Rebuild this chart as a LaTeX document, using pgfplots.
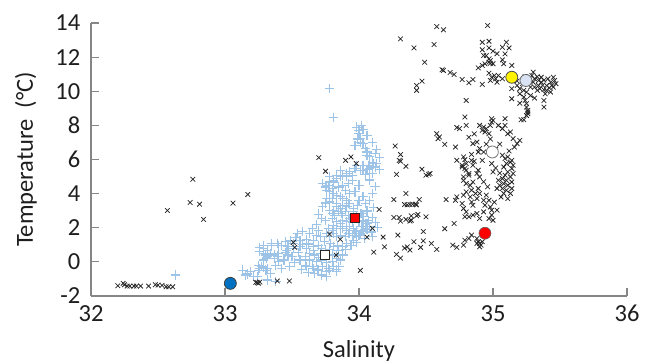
\documentclass[border=0pt]{standalone}
\usepackage{pgfplots}
\pgfplotsset{compat=1.18}
\usepackage{pgfplotstable}
\usepackage{fontspec}
\setmainfont{Carlito}

\definecolor{axisgray}{RGB}{134,134,134}
\definecolor{paleblue}{RGB}{157,195,230}
\definecolor{deepblue}{RGB}{0,112,192}
\definecolor{paleice}{RGB}{218,227,243}
\definecolor{textdark}{RGB}{30,30,30}

% Salinity / temperature pairs, all stations
\pgfplotstableread{
S T
32.76 4.84
32.57 3.01
32.74 3.48
32.81 3.38
32.84 2.49
33.06 3.44
33.17 3.95
32.20 -1.40
32.24 -1.26
32.25 -1.34
32.27 -1.42
32.29 -1.42
32.32 -1.42
32.34 -1.42
32.37 -1.42
32.43 -1.42
32.48 -1.34
32.50 -1.36
32.53 -1.38
32.56 -1.46
32.58 -1.46
32.61 -1.46
33.23 -1.20
33.25 -1.25
33.26 -1.18
33.24 -1.22
33.39 -1.12
33.48 -1.12
34.01 -0.50
34.27 6.79
34.31 6.29
34.30 5.95
34.31 5.90
34.35 5.60
34.28 5.13
34.47 5.43
34.50 5.08
34.52 5.13
34.58 7.51
34.60 7.32
34.59 7.22
34.64 6.89
33.90 5.95
33.94 6.15
33.98 5.76
34.35 4.01
34.26 3.65
34.45 3.65
34.65 3.65
34.34 3.36
34.36 3.34
34.38 3.36
34.40 3.38
34.42 3.38
34.43 3.34
34.15 3.07
34.26 2.60
34.30 2.60
34.31 2.39
34.39 2.70
34.44 2.78
34.39 2.44
34.38 2.39
34.50 2.64
34.64 1.94
34.10 1.96
34.06 1.45
34.18 1.45
34.29 1.57
34.48 1.78
34.41 1.18
34.48 1.23
34.46 0.85
34.36 0.88
34.34 0.81
34.38 0.69
34.54 1.08
34.58 0.73
34.19 0.88
34.11 0.57
34.28 0.44
34.31 0.22
33.83 0.40
33.86 1.32
33.78 1.63
33.51 1.14
33.52 0.85
33.70 6.11
33.75 5.31
34.58 13.79
34.63 13.60
34.96 13.85
34.56 12.74
34.49 11.70
34.47 10.59
34.63 11.22
34.68 11.10
34.71 10.98
34.77 10.69
34.82 10.50
34.85 10.69
34.92 10.40
34.80 9.46
34.79 8.49
34.92 12.87
34.97 12.93
34.92 12.43
34.97 12.54
34.95 12.09
34.97 11.90
34.98 11.80
34.98 11.64
34.94 11.61
34.92 11.51
34.97 11.70
35.00 11.61
34.89 11.37
35.07 12.58
35.10 12.87
35.12 12.54
35.09 12.19
35.07 11.84
35.08 11.61
35.14 11.51
34.97 11.06
34.99 10.82
35.02 10.73
35.04 10.92
35.07 10.73
34.98 10.63
35.03 10.53
35.01 10.92
35.14 10.15
35.18 10.34
35.20 10.15
35.23 10.05
35.25 9.95
35.28 10.24
35.30 10.53
35.31 10.24
35.33 10.05
35.34 10.34
35.35 10.15
35.36 10.53
35.38 10.09
35.40 10.34
35.41 10.73
35.43 10.53
35.44 10.34
35.45 10.82
35.46 10.63
35.47 10.44
35.45 10.24
35.30 11.12
35.29 10.92
35.31 10.73
35.34 10.63
35.36 10.82
35.40 10.05
35.43 9.95
35.39 9.85
35.20 9.85
35.23 9.66
35.24 9.46
35.25 9.27
35.25 9.07
35.26 8.88
35.26 8.68
35.14 9.56
35.38 9.46
35.38 9.07
35.20 9.30
34.99 8.39
35.21 8.33
34.80 8.00
34.73 7.87
34.75 7.81
34.72 6.73
34.90 8.00
34.93 7.90
34.95 7.81
34.94 7.61
34.97 7.51
34.98 8.00
34.99 8.19
34.92 7.71
35.04 8.00
35.07 7.81
35.09 8.00
35.13 7.61
35.11 7.51
35.15 7.22
35.18 6.93
35.20 7.12
35.16 6.73
35.26 8.78
35.25 8.58
35.23 8.33
34.85 6.93
34.88 7.02
34.90 6.64
34.93 6.44
34.89 6.44
34.73 5.95
34.79 5.99
34.80 5.76
34.77 5.56
34.80 5.37
34.78 4.98
34.82 5.18
34.84 5.95
34.85 5.66
34.92 5.95
34.99 5.76
35.00 5.27
35.07 6.25
35.09 6.05
35.11 6.15
35.13 5.85
35.14 5.95
35.15 5.66
35.10 5.76
35.08 5.56
35.14 5.47
35.11 5.27
35.15 5.18
35.09 5.08
35.13 4.98
35.07 4.88
35.10 4.78
35.14 4.68
35.08 4.59
35.11 4.49
35.07 4.30
35.10 4.20
35.14 4.30
35.13 4.01
35.08 4.01
35.05 4.49
35.04 4.78
35.03 4.30
35.11 3.71
34.78 6.15
34.77 5.66
34.79 5.47
34.82 5.08
34.78 4.78
34.80 4.59
34.83 4.49
34.85 4.68
34.88 5.18
34.89 5.37
34.90 4.98
34.84 4.20
34.87 4.01
34.89 4.30
34.80 4.10
34.78 3.91
34.83 3.81
34.90 4.01
34.88 3.71
34.84 3.51
34.93 3.61
34.94 3.32
34.97 3.61
34.98 3.22
34.99 3.03
34.95 3.91
34.85 3.32
34.78 3.13
34.80 2.93
34.82 2.64
34.79 2.64
34.85 2.74
34.88 2.84
34.90 2.54
34.93 2.93
34.99 2.74
35.00 2.44
34.97 2.54
34.73 3.81
34.72 3.61
34.77 3.42
35.03 3.03
34.71 2.25
34.79 1.27
34.82 1.37
34.84 1.57
34.88 1.37
34.89 1.18
34.90 1.08
34.90 0.88
34.91 0.98
34.88 1.08
34.92 1.18
34.70 0.98
34.73 0.85
34.78 0.98
34.53 5.18
34.31 13.07
34.41 12.54
34.62 11.26
34.43 10.34
34.43 10.05
35.00 8.29
35.09 8.39
34.35 2.49
34.43 2.70
35.02 6.60
35.05 6.90
35.12 6.50
34.95 6.90
34.98 7.20
34.86 7.50
34.82 7.30
35.02 5.50
35.05 5.20
35.06 3.80
35.01 3.50
34.96 4.40
34.93 4.70
34.86 5.90
34.84 6.30
35.18 10.60
35.22 10.45
35.27 10.75
35.33 10.85
35.38 10.65
35.42 10.20
35.37 10.35
35.24 10.85
35.28 9.75
35.31 9.60
35.03 12.20
35.00 12.35
34.93 12.10
}\blackpts

% Salinity / temperature pairs, shelf section
\pgfplotstableread{
S T
32.63 -0.77
33.78 10.15
33.81 8.45
33.98 7.90
34.02 8.00
34.00 7.71
34.03 7.75
34.00 7.51
34.01 7.22
34.03 6.93
34.01 7.02
34.05 6.64
34.06 6.44
34.08 6.15
34.06 6.25
34.10 5.85
34.07 5.66
34.11 5.76
34.08 5.47
34.06 5.41
34.03 5.66
34.01 5.37
33.98 5.66
33.97 5.47
33.93 5.27
33.91 5.18
33.88 5.08
33.86 4.98
33.83 4.88
33.81 4.78
33.78 4.68
33.77 4.49
33.75 4.39
33.76 4.20
33.78 4.10
33.81 4.01
33.83 3.91
33.86 3.81
33.88 3.71
33.91 3.61
33.92 3.42
33.91 3.22
33.88 3.32
33.86 3.13
33.83 3.22
33.81 3.03
33.80 2.84
33.82 2.74
33.85 2.93
33.87 2.84
33.90 2.93
33.92 2.74
33.93 2.54
33.91 2.35
33.88 2.44
33.86 2.25
33.83 2.35
33.81 2.15
33.83 1.96
33.86 2.05
33.88 1.96
33.91 1.86
33.93 2.05
33.96 1.96
33.98 1.86
33.97 1.67
33.95 1.57
33.92 1.67
33.90 1.47
33.86 1.57
33.83 1.47
33.81 1.67
33.80 1.86
33.77 1.96
33.76 1.67
33.78 1.47
33.75 2.44
33.72 2.54
33.73 3.22
33.76 3.71
33.80 3.71
34.01 2.84
34.03 2.64
34.06 2.93
34.07 2.44
34.05 2.25
34.02 2.05
34.00 2.35
33.98 2.64
33.96 2.93
34.08 2.05
34.01 1.67
34.03 1.76
33.98 1.47
33.54 1.67
33.58 1.76
33.63 1.67
33.68 1.57
33.71 1.47
33.66 1.27
33.61 1.32
33.56 1.23
33.51 1.08
33.56 0.88
33.61 0.79
33.66 0.88
33.70 0.98
33.72 0.79
33.75 0.69
33.71 0.50
33.67 0.40
33.63 0.50
33.60 0.30
33.63 0.11
33.68 0.02
33.72 0.11
33.76 -0.05
33.80 0.02
33.83 0.20
33.80 0.40
33.81 -0.29
33.77 -0.38
33.73 -0.29
33.70 -0.48
33.66 -0.38
33.61 -0.29
33.67 -0.67
33.72 -0.77
33.83 -0.58
33.76 -0.58
33.49 1.27
33.45 1.18
33.42 0.98
33.39 1.08
33.35 0.98
33.32 0.69
33.29 0.79
33.26 0.59
33.30 0.40
33.34 0.50
33.37 0.40
33.40 0.50
33.46 0.69
33.51 0.79
33.47 0.40
33.44 0.11
33.40 0.02
33.37 0.20
33.31 0.20
33.29 0.11
33.25 -0.19
33.19 -0.58
33.13 -0.48
33.15 -0.77
33.21 -0.87
33.27 -0.29
33.32 -0.38
33.34 -0.67
33.26 0.85
33.29 0.98
33.35 1.08
33.39 0.34
33.31 0.26
33.29 -0.32
33.31 -0.52
33.17 -0.71
33.32 -1.06
33.38 -1.15
33.25 -0.48
33.29 0.50
33.32 0.30
33.40 0.98
33.47 0.88
33.26 -0.38
33.30 -0.48
33.24 -0.87
33.69 -0.44
33.78 -0.48
33.83 -0.44
33.65 -0.29
33.60 -0.19
33.56 0.11
33.86 0.11
33.88 0.40
33.85 0.69
33.81 0.88
33.93 1.67
33.98 1.76
34.02 1.86
34.06 1.90
34.03 2.35
34.02 2.84
34.06 3.03
34.05 3.42
34.03 3.81
34.00 3.61
33.96 3.13
33.93 3.42
33.86 3.81
33.83 3.42
33.78 3.51
33.81 4.01
34.12 5.56
34.03 5.37
33.86 5.37
33.83 5.08
33.78 4.98
33.81 4.68
33.76 4.49
33.73 4.59
33.80 4.30
33.85 4.39
33.88 4.49
33.92 4.59
33.95 4.78
33.91 4.98
33.90 4.20
33.93 4.01
34.13 5.76
34.12 6.35
33.83 0.40
33.85 -0.29
34.03 2.44
34.06 2.25
34.05 1.96
33.96 1.27
33.91 1.08
33.88 0.88
34.00 1.57
34.10 2.60
34.12 2.30
34.14 2.00
34.09 1.75
34.11 3.20
34.08 3.60
34.10 4.00
34.12 4.40
34.08 4.80
34.05 5.10
33.95 5.05
34.00 4.50
33.97 4.10
33.99 3.30
33.95 2.30
33.88 2.70
33.80 2.55
33.78 3.00
33.75 3.45
33.70 2.80
33.68 2.20
33.65 1.95
33.70 1.85
33.74 1.20
33.79 1.10
33.84 0.95
33.90 0.70
33.94 0.95
33.98 1.15
34.04 1.35
34.10 1.50
33.97 6.80
33.99 7.20
34.06 7.40
34.10 7.00
34.13 6.60
34.15 6.10
34.15 5.40
34.10 5.20
33.45 0.55
33.50 0.30
33.55 0.55
33.58 1.00
33.53 1.45
33.62 1.05
33.66 0.65
33.70 0.25
33.74 0.35
33.78 0.75
33.52 -0.05
33.48 -0.25
33.57 -0.45
33.62 -0.60
33.76 -0.85
33.42 -0.40
33.38 -0.20
}\shelfpts

\begin{document}
\begin{tikzpicture}[x=1pt,y=1pt]
\path[use as bounding box] (0,0) rectangle (654,363);
\begin{axis}[
  at={(91pt,67pt)}, anchor=south west,
  scale only axis, width=536pt, height=273pt,
  xmin=32, xmax=36, ymin=-2, ymax=14,
  axis lines=left,
  axis line style={axisgray, line width=1.2pt, -},
  xtick={32,33,34,35,36}, ytick={-2,0,2,4,6,8,10,12,14},
  tick align=inside, major tick length=8pt,
  every tick/.style={axisgray, line width=1.2pt},
  font=\fontsize{24.5}{29}\selectfont,
  /pgf/number format/assume math mode=true,
  tick label style={text=textdark},
  xticklabel style={anchor=base, inner sep=0pt, yshift=-26pt},
  yticklabel style={anchor=east, inner sep=0pt, xshift=-10.5pt},
  xlabel={Salinity}, ylabel={Temperature\ \ (°C)},
  label style={text=textdark},
  xlabel style={at={(axis description cs:0.5,-0.227)}, anchor=base},
  ylabel style={at={(axis description cs:-0.1213,0.5)}, anchor=center},
  clip=false,
]
\addplot[only marks, mark=+, mark size=4.6pt, line width=1.1pt, color=paleblue]
  table[x=S, y=T] {\shelfpts};
\addplot[only marks, mark=x, mark size=3.3pt, line width=0.75pt, color=black!85]
  table[x=S, y=T] {\blackpts};
% reference stations
\addplot[only marks, mark=*, mark size=6pt, mark options={fill=deepblue, draw=black!75, line width=0.8pt}]
  coordinates {(33.04,-1.26)};
\addplot[only marks, mark=square*, mark size=4.5pt, mark options={fill=white, draw=black!85, line width=1.1pt}]
  coordinates {(33.744,0.38)};
\addplot[only marks, mark=square*, mark size=4.5pt, mark options={fill=red, draw=black!85, line width=1.1pt}]
  coordinates {(33.97,2.58)};
\addplot[only marks, mark=*, mark size=6pt, mark options={fill=red, draw=black!60, line width=0.6pt}]
  coordinates {(34.94,1.68)};
\addplot[only marks, mark=*, mark size=6pt, mark options={fill=white, draw=black!55, line width=0.8pt}]
  coordinates {(34.995,6.44)};
\addplot[only marks, mark=*, mark size=6pt, mark options={fill=yellow, draw=black!70, line width=0.8pt}]
  coordinates {(35.14,10.82)};
\addplot[only marks, mark=*, mark size=6pt, mark options={fill=paleice, draw=black!60, line width=0.8pt}]
  coordinates {(35.246,10.63)};
\end{axis}
\end{tikzpicture}
\end{document}
